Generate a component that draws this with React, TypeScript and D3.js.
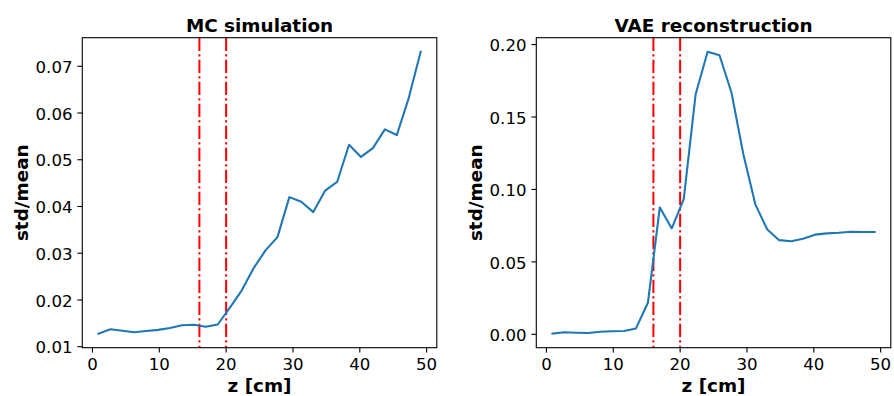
import React from 'react';
import * as d3 from 'd3';

// bin centres along z (cm)
const zCm = [0.89, 2.68, 4.46, 6.25, 8.04, 9.82, 11.61, 13.39, 15.18, 16.96, 18.75, 20.54, 22.32, 24.11,
  25.89, 27.68, 29.46, 31.25, 33.04, 34.82, 36.61, 38.39, 40.18, 41.96, 43.75, 45.54, 47.32, 49.11];

const mcStd = [0.0128, 0.01375, 0.0134, 0.0131, 0.01335, 0.0136, 0.0140, 0.0146, 0.0147, 0.01426,
  0.01475, 0.0183, 0.0220, 0.0268, 0.0306, 0.03345, 0.0420, 0.0410, 0.0388, 0.0434, 0.04525,
  0.0532, 0.0506, 0.0525, 0.0565, 0.0553, 0.0632, 0.0731];

const vaeStd = [0.0005, 0.0014, 0.0011, 0.0009, 0.0018, 0.0021, 0.0023, 0.0041, 0.0218, 0.0876,
  0.0731, 0.0933, 0.1657, 0.195, 0.1926, 0.1669, 0.1243, 0.0897, 0.0724, 0.0650, 0.0643, 0.0660,
  0.0688, 0.0697, 0.0701, 0.0708, 0.0706, 0.0706];

const cutLines = [16, 20];
const xTicks = [0, 10, 20, 30, 40, 50];
const mcTicks = [0.01, 0.02, 0.03, 0.04, 0.05, 0.06, 0.07];
const vaeTicks = [0, 0.05, 0.1, 0.15, 0.2];

const FONT = 'DejaVu Sans';
const TICK_SIZE = 16.6;
const LABEL_SIZE = 18.4;

// matplotlib-like 5% margins
const padded = (vals: number[]) => {
  const [lo, hi] = d3.extent(vals) as [number, number];
  const m = (hi - lo) * 0.05;
  return [lo - m, hi + m];
};

type PanelProps = {
  left: number;
  title: string;
  values: number[];
  yTicks: number[];
  labelX: number;
};

const Panel = ({ left, title, values, yTicks, labelX }: PanelProps) => {
  const top = 37.7;
  const w = 354.5;
  const h = 310;
  const x = d3.scaleLinear().domain(padded(zCm)).range([left, left + w]);
  const y = d3.scaleLinear().domain(padded(values)).range([top + h, top]);
  const fmt = d3.format('.2f');

  const line = d3.line<number>()
    .x((_, i) => x(zCm[i]))
    .y(d => y(d));

  return (
    <g>
      <text x={left + w / 2} y={31.5} textAnchor="middle" fontFamily={FONT} fontWeight="bold"
        fontSize={LABEL_SIZE}>{title}</text>

      {cutLines.map(c => (
        <line key={c} x1={x(c)} x2={x(c)} y1={top} y2={top + h} stroke="#ff0000" strokeWidth={2}
          strokeDasharray="13.3,3.3,2.1,3.3" />
      ))}

      <path d={line(values) ?? ''} fill="none" stroke="#1f77b4" strokeWidth={2.08}
        strokeLinejoin="round" strokeLinecap="square" />

      <rect x={left} y={top} width={w} height={h} fill="none" stroke="#000" strokeWidth={1.1} />

      {xTicks.map(t => (
        <g key={t}>
          <line x1={x(t)} x2={x(t)} y1={top + h} y2={top + h + 4.9} stroke="#000" strokeWidth={1.1} />
          <text x={x(t)} y={370} textAnchor="middle" fontFamily={FONT} fontSize={TICK_SIZE}>{t}</text>
        </g>
      ))}
      <text x={left + w / 2} y={392} textAnchor="middle" fontFamily={FONT} fontWeight="bold"
        fontSize={LABEL_SIZE}>z [cm]</text>

      {yTicks.map(t => (
        <g key={t}>
          <line x1={left - 4.9} x2={left} y1={y(t)} y2={y(t)} stroke="#000" strokeWidth={1.1} />
          <text x={left - 9.8} y={y(t)} dy="0.4em" textAnchor="end" fontFamily={FONT}
            fontSize={TICK_SIZE}>{fmt(t)}</text>
        </g>
      ))}
      <text transform={`translate(${labelX},${top + h / 2}) rotate(-90)`} textAnchor="middle"
        fontFamily={FONT} fontWeight="bold" fontSize={LABEL_SIZE}>std/mean</text>
    </g>
  );
};

export default function App() {
  return (
    <svg width={894} height={396} style={{ position: 'absolute', left: 0, top: 0, background: '#fff' }}>
      <Panel left={82.3} title="MC simulation" values={mcStd} yTicks={mcTicks} labelX={28.3} />
      <Panel left={536.3} title="VAE reconstruction" values={vaeStd} yTicks={vaeTicks} labelX={482} />
    </svg>
  );
}
